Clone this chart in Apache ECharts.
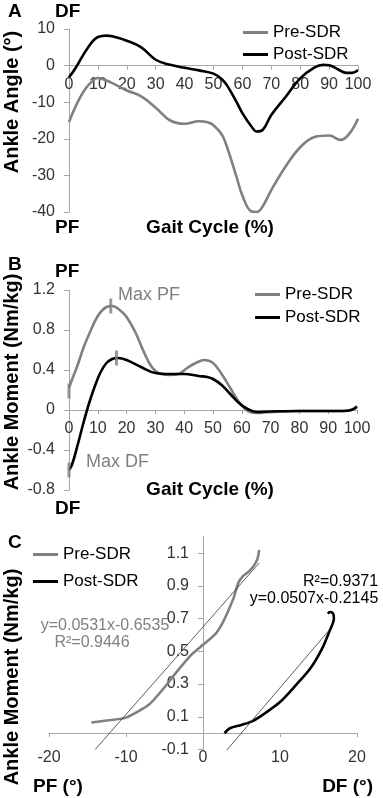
<!DOCTYPE html>
<html><head><meta charset="utf-8">
<script src="https://cdn.jsdelivr.net/npm/echarts@6/dist/echarts.min.js"></script>
<style>html,body{margin:0;padding:0;background:#fff}#c{width:383px;height:798px}</style>
</head><body><div id="c"></div>
<script>
// ---- Panel A: ankle angle (deg) vs gait cycle (%)
const preAngle = [[0,-15.4],[3,-10],[6,-6],[9,-3.6],[10,-3.4],[12,-3.8],[15,-4.8],[20,-6.8],[25,-8.4],[30,-11.5],[35,-15],[40,-15.9],[45,-15.2],[48,-15.5],[50,-16.3],[53,-19],[55,-23],[58,-30.5],[60,-35.5],[63,-39.8],[65,-40],[67,-38.5],[70,-34],[75,-27.5],[80,-22.3],[85,-19.5],[90,-19.1],[94,-20.3],[97,-18.6],[100,-14.5]];
const postAngle = [[0,-3.2],[2,-1],[5,3],[8,6.5],[10,7.8],[13,8.2],[15,8.0],[20,6.8],[25,5.0],[30,1.6],[35,0.2],[40,-0.6],[45,-1.3],[50,-2.2],[53,-3.8],[55,-5.8],[58,-10],[60,-13],[63,-16.5],[65,-18],[67,-17.6],[70,-13.5],[75,-8.5],[80,-3.5],[85,-0.5],[88,0.2],[90,0.1],[93,-1],[96,-2],[98,-2],[100,-1.2]];
// ---- Panel B: ankle moment (Nm/kg) vs gait cycle (%)
const preMoment = [[0,0.22],[1,0.3],[3,0.45],[5,0.62],[7,0.76],[10,0.94],[13,1.03],[15,1.04],[18,0.99],[20,0.93],[23,0.78],[26,0.58],[29,0.42],[32,0.36],[35,0.35],[38,0.36],[41,0.42],[44,0.47],[47,0.5],[50,0.47],[53,0.36],[56,0.22],[59,0.08],[62,-0.01],[65,-0.03],[70,-0.02],[80,-0.01],[90,-0.01],[95,-0.01],[98,0.0],[100,0.04]];
const postMoment = [[0,-0.6],[1,-0.55],[3,-0.35],[5,-0.13],[7,0.07],[9,0.24],[11,0.38],[13,0.47],[15,0.51],[17,0.52],[20,0.5],[25,0.43],[30,0.37],[35,0.36],[40,0.36],[45,0.34],[48,0.33],[50,0.31],[53,0.25],[56,0.16],[59,0.07],[62,0.01],[65,-0.02],[70,-0.015],[80,-0.01],[90,-0.01],[95,-0.01],[98,0.0],[100,0.03]];
const maxMarkers = [[0,0.19],[0,-0.6],[14.5,1.04],[16.5,0.52]];
// ---- Panel C: ankle moment (Nm/kg) vs ankle angle (deg)
const preLoop = [[-14.5,0.065],[-12,0.08],[-10,0.095],[-7,0.175],[-5,0.28],[-3.5,0.37],[-1.5,0.48],[0,0.54],[1.5,0.6],[2.5,0.67],[3.3,0.75],[4,0.83],[4.6,0.92],[5.2,0.96],[6,0.99],[6.7,1.03],[7.1,1.07],[7.3,1.12]];
const postLoop = [[2.8,0.0],[3.5,0.03],[5,0.05],[6.5,0.075],[8,0.12],[10,0.19],[12,0.29],[14,0.4],[15.5,0.52],[16.4,0.62],[17,0.7],[16.9,0.73],[16.5,0.74],[16.2,0.73]];
const preTrend = [[-14,-0.1],[7.3,1.04]];
const postTrend = [[2.8,-0.12],[16.4,0.63]];
const seriesNames = ['Pre-SDR','Post-SDR'];

const FONT = '"Liberation Sans", Arial, sans-serif';
const GRAY = '#808080', BLACK = '#000000', AX = '#a6a6a6', LBL = '#333333';

// grid boxes
const grids = [
  {left:69, top:29, width:289, height:183},
  {left:69, top:290, width:288, height:200},
  {left:49, top:536.8, width:308, height:212.7}
];
const xr = [[0,100,10],[0,100,10],[-20,20,10]];
const yr = [[-40,10,10],[-0.8,1.2,0.4],[-0.1,1.2,0.2]];

function xAx(gi, margin){
  const [min,max,interval] = xr[gi];
  const [ymin,ymax] = yr[gi];
  // put the axis line at y = 0 of the value axis
  const off = -(0 - ymin)/(ymax - ymin) * grids[gi].height;
  return {gridIndex:gi, type:'value', min, max, interval, position:'bottom', offset:off,
    axisLine:{show:true, onZero:false, lineStyle:{color:AX, width:1}},
    axisTick:{show:true, length:4, lineStyle:{color:AX}},
    axisLabel:{fontSize:16, color:LBL, fontFamily:FONT, margin},
    splitLine:{show:false}};
}
function yAx(gi, margin, hideMax){
  const [min,max,interval] = yr[gi];
  const [xmin,xmax] = xr[gi];
  const off = -(0 - xmin)/(xmax - xmin) * grids[gi].width;
  const a = {gridIndex:gi, type:'value', min, max, interval, position:'left', offset:off,
    axisLine:{show:true, onZero:false, lineStyle:{color:AX, width:1}},
    axisTick:{show:true, length:5, lineStyle:{color:AX}},
    axisLabel:{fontSize:16, color:LBL, fontFamily:FONT, margin},
    splitLine:{show:false}};
  if (hideMax) a.axisLabel.showMaxLabel = false;
  return a;
}
function line(name, gi, data, color, smooth, width){
  return {name, type:'line', xAxisIndex:gi, yAxisIndex:gi, data, smooth,
    showSymbol:false, symbol:'none', lineStyle:{color, width:width||2.6}, itemStyle:{color},
    silent:true, z:3};
}
function legend(left, top, gap){
  return {data:seriesNames, orient:'vertical', left, top, padding:0, itemGap:gap,
    icon:'rect', itemWidth:25, itemHeight:3, selectedMode:false,
    textStyle:{fontSize:17, color:'#000', fontFamily:FONT}};
}
function txt(x, y, text, opt){
  opt = opt||{};
  return {type:'text', x, y, rotation:opt.rot||0, z:10,
    style:{text, fill:opt.color||'#000', font:(opt.bold?'bold ':'')+(opt.size||19)+'px '+FONT,
      textAlign:opt.align||'left', textVerticalAlign:'middle'}};
}

const chart = echarts.init(document.getElementById('c'), null, {renderer:'canvas'});
chart.setOption({
  animation:false,
  backgroundColor:'#fff',
  grid: grids.map(g => Object.assign({containLabel:false}, g)),
  xAxis:[ xAx(0,11), xAx(1,11), xAx(2,16) ],
  yAxis:[ yAx(0,14), yAx(1,14), yAx(2,14,true) ],
  legend:[ legend(243,24,5), legend(255,286,6), legend(33,546,10) ],
  series:[
    line('Pre-SDR',0,preAngle,GRAY,0.4),
    line('Post-SDR',0,postAngle,BLACK,0.4),
    line('Pre-SDR',1,preMoment,GRAY,0.4),
    line('Post-SDR',1,postMoment,BLACK,0.4),
    {name:'max', type:'scatter', xAxisIndex:1, yAxisIndex:1, data:maxMarkers,
      symbol:'rect', symbolSize:[3,15], itemStyle:{color:GRAY}, silent:true, z:4},
    line('Pre-SDR',2,preLoop,GRAY,0.2),
    line('Post-SDR',2,postLoop,BLACK,0.3),
    line('preTrend',2,preTrend,'#333',false,0.8),
    line('postTrend',2,postTrend,'#333',false,0.8)
  ],
  graphic:[
    txt(8,12,'A',{bold:true,size:19}),
    txt(55,12,'DF',{bold:true}),
    txt(55,228,'PF',{bold:true}),
    txt(210,228,'Gait Cycle (%)',{bold:true,align:'center'}),
    txt(12,102,'Ankle Angle (°)',{bold:true,size:20,align:'center',rot:Math.PI/2}),
    txt(8,265,'B',{bold:true,size:19}),
    txt(55,272,'PF',{bold:true}),
    txt(210,490,'Gait Cycle (%)',{bold:true,align:'center'}),
    txt(55,509,'DF',{bold:true}),
    txt(12,382,'Ankle Moment (Nm/kg)',{bold:true,size:20,align:'center',rot:Math.PI/2}),
    txt(118,295,'Max PF',{color:GRAY,size:18}),
    txt(86,462,'Max DF',{color:GRAY,size:18}),
    txt(8,543,'C',{bold:true,size:19}),
    txt(12,677,'Ankle Moment (Nm/kg)',{bold:true,size:20,align:'center',rot:Math.PI/2}),
    txt(33,787,'PF (°)',{bold:true}),
    txt(373,787,'DF (°)',{bold:true,align:'right'}),
    txt(303,582,'R²=0.9371',{size:16}),
    txt(314,599,'y=0.0507x-0.2145',{size:16,align:'center'}),
    txt(105,626,'y=0.0531x-0.6535',{size:16,align:'center',color:GRAY}),
    txt(92,643,'R²=0.9446',{size:16,align:'center',color:GRAY})
  ]
});
</script></body></html>
